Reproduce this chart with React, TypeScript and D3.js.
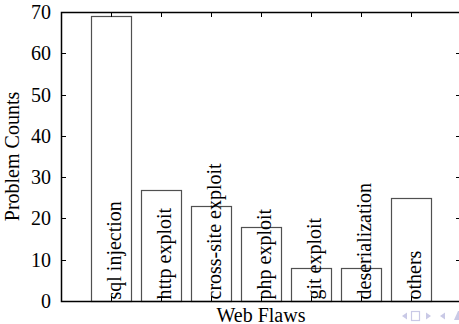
import React from "react";
import * as d3 from "d3";

const categories = [
  "sql injection",
  "http exploit",
  "cross-site exploit",
  "php exploit",
  "git exploit",
  "deserialization",
  "others",
];
const counts = [69, 27, 23, 18, 8, 8, 25];
const yTicks = [0, 10, 20, 30, 40, 50, 60, 70];

const W = 459;
const H = 324;
const left = 61;
const right = 461;
const top = 12;
const bottom = 301;
const FONT = "'Liberation Serif', 'Times New Roman', Times, serif";

export default function App() {
  const x = d3
    .scaleBand<string>()
    .domain(categories)
    .range([left, right])
    .paddingInner(0.2)
    .paddingOuter(0.6);
  const y = d3.scaleLinear().domain([0, 70]).range([bottom, top]);
  const tick = 5;

  return (
    <svg
      width={W}
      height={H}
      style={{ position: "absolute", left: 0, top: 0, background: "#fff" }}
      fontFamily={FONT}
    >
      {/* bars */}
      {categories.map((c, i) => (
        <rect
          key={c}
          x={x(c)! + 0.5}
          y={Math.round(y(counts[i])) + 0.5}
          width={x.bandwidth()}
          height={bottom - Math.round(y(counts[i]))}
          fill="#fff"
          stroke="#505050"
          strokeWidth={1.2}
        />
      ))}

      {/* bar labels */}
      {categories.map((c) => {
        const cx = x(c)! + x.bandwidth() / 2 + 10;
        const cy = bottom - 1.5;
        return (
          <text
            key={"l" + c}
            transform={`translate(${cx},${cy}) rotate(-90)`}
            fontSize={20}
            fill="#000"
            textAnchor="start"
          >
            {c}
          </text>
        );
      })}

      {/* x ticks (bottom and top) */}
      {categories.map((c) => {
        const cx = Math.round(x(c)! + x.bandwidth() / 2) + 0.5;
        return (
          <g key={"t" + c} stroke="#000" strokeWidth={1}>
            <line x1={cx} x2={cx} y1={bottom} y2={bottom - tick} />
            <line x1={cx} x2={cx} y1={top} y2={top + tick} />
          </g>
        );
      })}

      {/* y ticks (left and right) */}
      {yTicks.map((v) => {
        const ty = Math.round(y(v)) + 0.5;
        return (
          <g key={"y" + v}>
            <line x1={left} x2={left + tick} y1={ty} y2={ty} stroke="#000" />
            <line x1={right} x2={right - tick} y1={ty} y2={ty} stroke="#000" />
            <text
              x={51}
              y={ty + 6.5}
              textAnchor="end"
              fontSize={20}
              fill="#000"
            >
              {v}
            </text>
          </g>
        );
      })}

      {/* frame */}
      <rect
        x={left + 0.5}
        y={top + 0.5}
        width={right - left}
        height={bottom - top}
        fill="none"
        stroke="#000"
        strokeWidth={1.5}
      />

      {/* axis titles */}
      <text
        transform={`translate(${18.5},${(top + bottom) / 2}) rotate(-90)`}
        textAnchor="middle"
        fontSize={20}
        fill="#000"
      >
        Problem Counts
      </text>
      <text
        x={(left + right) / 2}
        y={321.5}
        textAnchor="middle"
        fontSize={20}
        fill="#000"
      >
        Web Flaws
      </text>

      {/* navigation symbols */}
      <g fill="#c9c9e6" stroke="none">
        <path d="M402,316 L407,312.5 L407,319.5 Z" />
        <rect x={411.5} y={311.5} width={8} height={9} fill="none" stroke="#c9c9e6" strokeWidth={1.2} />
        <path d="M426,312.5 L431,316 L426,319.5 Z" />
        <path d="M440,316 L445,312.5 L445,319.5 Z" />
        <path d="M454,320 L458,311 L459,311 L459,320 Z" />
      </g>
    </svg>
  );
}
